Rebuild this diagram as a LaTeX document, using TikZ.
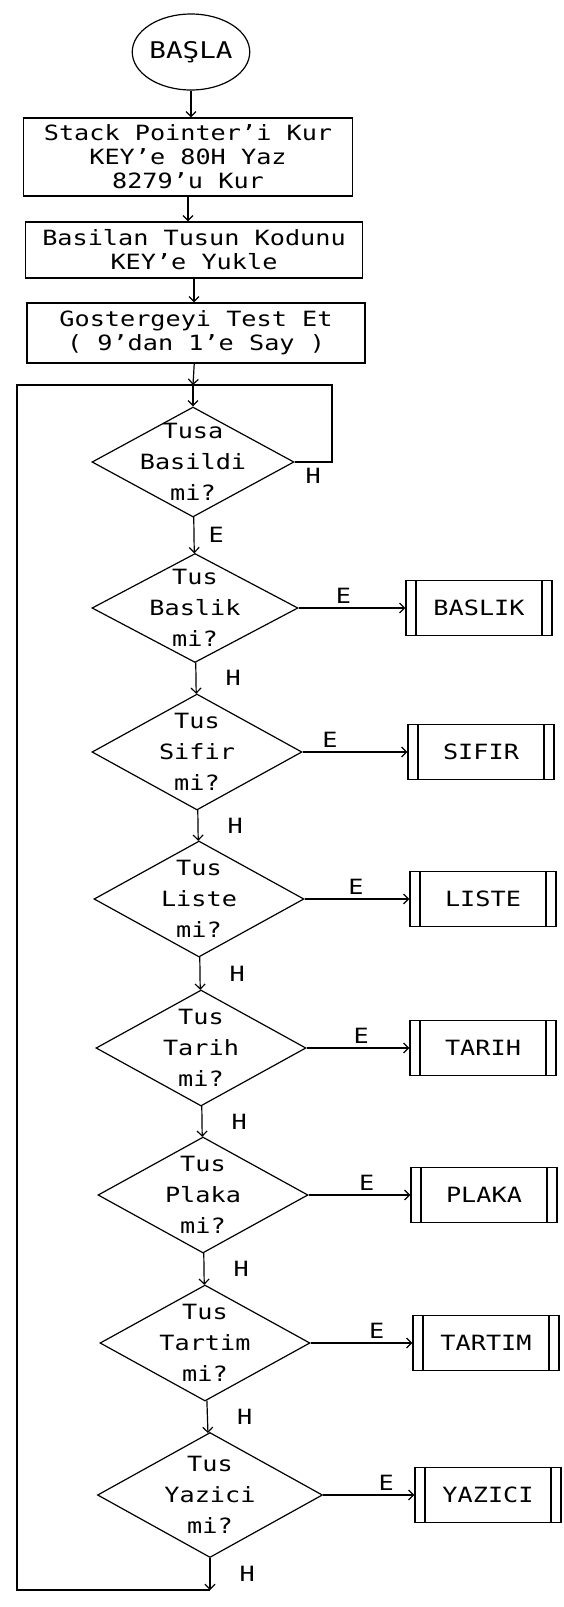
\documentclass[tikz,border=0pt]{standalone}
\usepackage{fontspec}
\setmainfont[FakeStretch=1.2]{DejaVu Sans Mono}
\usepackage{tikz}
\usetikzlibrary{shapes.geometric, arrows.meta, positioning}

\begin{document}
\begin{tikzpicture}[
  x=1pt, y=1pt,
  line width=1.2pt,
  font=\fontsize{21}{24}\selectfont,
  startnode/.style={draw, ellipse, minimum width=116pt, minimum height=76pt, inner sep=0pt, font=\fontsize{23}{26}\selectfont},
  stepbox/.style={draw, rectangle, align=center, inner sep=2pt},
  decision/.style={draw, diamond, aspect=1.8, align=center, inner sep=-22pt, minimum width=210pt, minimum height=116pt, font=\fontsize{21}{31}\selectfont},
  subproc/.style={draw, rectangle, minimum width=146pt, minimum height=55pt, inner sep=0pt,
    path picture={
      \draw ([xshift=10pt]path picture bounding box.north west) -- ([xshift=10pt]path picture bounding box.south west);
      \draw ([xshift=-10pt]path picture bounding box.north east) -- ([xshift=-10pt]path picture bounding box.south east);
    }},
  arrow/.style={-{Straight Barb[length=5pt, width=10pt]}},
  lbl/.style={inner sep=2pt}
]
\useasboundingbox (0,0) rectangle (564,-1607);

% Start and set-up
\node[startnode] (start) at (191,-52) {BAŞLA};

\node[stepbox, minimum width=329pt, minimum height=78pt] (init) at (188,-157) {Stack Pointer’i Kur\\KEY’e 80H Yaz\\8279’u Kur};
\node[stepbox, minimum width=337pt, minimum height=56pt] (load) at (194,-250) {Basilan Tusun Kodunu\\KEY’e Yukle};
\node[stepbox, minimum width=338pt, minimum height=60pt] (test) at (196,-333) {Gostergeyi Test Et\\( 9’dan 1’e Say )};

\draw[arrow] (start) -- (start |- init.north);
\draw[arrow] (init) -- (init |- load.north);
\draw[arrow] (load) -- (load |- test.north);

% Key decisions
\node[decision, minimum width=202pt, minimum height=110pt] (dPress) at (193,-462) {Tusa\\Basildi\\mi?};
\node[decision, minimum width=206pt, minimum height=109pt] (dBaslik) at (195,-608) {Tus\\Baslik\\mi?};
\node[decision] (dSifir) at (197,-752) {Tus\\Sifir\\mi?};
\node[decision] (dListe) at (199,-899) {Tus\\Liste\\mi?};
\node[decision] (dTarih) at (201,-1048) {Tus\\Tarih\\mi?};
\node[decision] (dPlaka) at (203,-1195) {Tus\\Plaka\\mi?};
\node[decision] (dTartim) at (205,-1343) {Tus\\Tartim\\mi?};
\node[decision, minimum width=225pt, minimum height=125pt] (dYazici) at (210,-1495) {Tus\\Yazici\\mi?};

% Sub-routines
\node[subproc] (baslik) at (479,-608) {BASLIK};
\node[subproc] (sifir) at (481,-752) {SIFIR};
\node[subproc] (liste) at (483,-899) {LISTE};
\node[subproc] (tarih) at (483,-1048) {TARIH};
\node[subproc] (plaka) at (484,-1195) {PLAKA};
\node[subproc] (tartim) at (486,-1343) {TARTIM};
\node[subproc] (yazici) at (488,-1495) {YAZICI};

% Waiting loop
\coordinate (join) at (193,-385);
\coordinate (loopR) at (332,-385);
\coordinate (loopB) at (17,-1590);

\draw[arrow] (test) -- (join);
\draw[arrow] (join) -- (dPress);
\draw (dPress.east) -| node[lbl, pos=0.25, below=4pt] {H} (loopR) -- (join);

% Yes / No branches
\draw[arrow] (dPress) -- node[lbl, right=12pt] {E} (dBaslik);
\draw[arrow] (dBaslik) -- node[lbl, right=27pt] {H} (dSifir);
\draw[arrow] (dSifir) -- node[lbl, right=27pt] {H} (dListe);
\draw[arrow] (dListe) -- node[lbl, right=27pt] {H} (dTarih);
\draw[arrow] (dTarih) -- node[lbl, right=27pt] {H} (dPlaka);
\draw[arrow] (dPlaka) -- node[lbl, right=27pt] {H} (dTartim);
\draw[arrow] (dTartim) -- node[lbl, right=27pt] {H} (dYazici);

\draw[arrow] (dBaslik) -- node[lbl, pos=0.42, above=2pt] {E} (baslik);
\draw[arrow] (dSifir) -- node[lbl, pos=0.26, above=2pt] {E} (sifir);
\draw[arrow] (dListe) -- node[lbl, pos=0.49, above=2pt] {E} (liste);
\draw[arrow] (dTarih) -- node[lbl, pos=0.53, above=2pt] {E} (tarih);
\draw[arrow] (dPlaka) -- node[lbl, pos=0.57, above=2pt] {E} (plaka);
\draw[arrow] (dTartim) -- node[lbl, pos=0.65, above=2pt] {E} (tartim);
\draw[arrow] (dYazici) -- node[lbl, pos=0.69, above=2pt] {E} (yazici);

% Back to the start of the loop
\draw[arrow] (dYazici) -- node[lbl, right=27pt] {H} (dYazici |- loopB);
\draw (dYazici |- loopB) -- (loopB) |- (join);

\end{tikzpicture}
\end{document}
